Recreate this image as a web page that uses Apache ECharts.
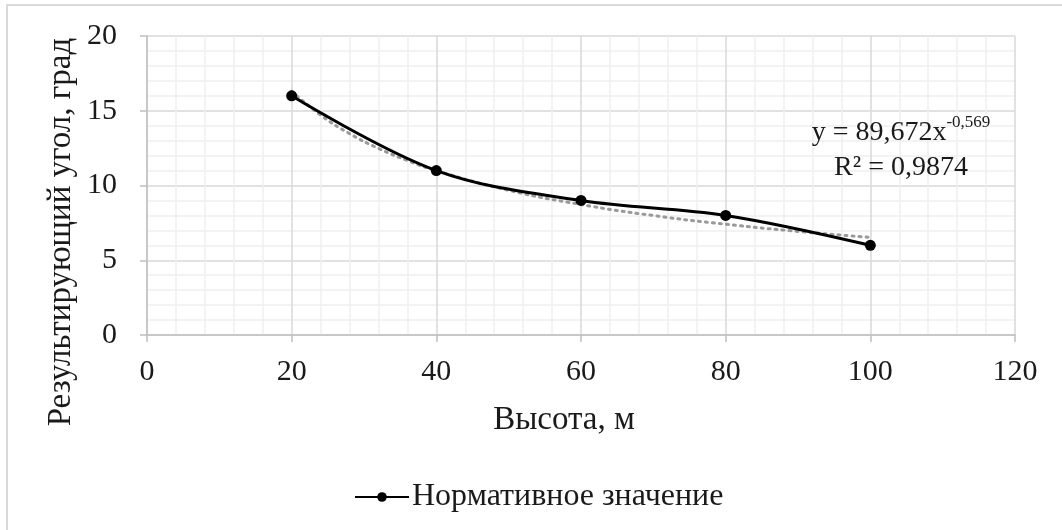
<!DOCTYPE html>
<html>
<head>
<meta charset="utf-8">
<script src="https://cdn.jsdelivr.net/npm/echarts@6/dist/echarts.min.js"></script>
<style>html,body{margin:0;padding:0;background:#fff}#c{width:1062px;height:530px}</style>
</head>
<body>
<div id="c"></div>
<script>
const heights = [20, 40, 60, 80, 100];
const angles = [16, 11, 9, 8, 6];
const trendX = [20, 24, 28, 32, 36, 40, 50, 60, 70, 80, 90, 100];
const trendY = [16.31, 14.71, 13.47, 12.48, 11.67, 10.99, 9.68, 8.73, 7.99, 7.41, 6.93, 6.53];
const seriesName = 'Нормативное значение';
const xTitle = 'Высота, м';
const yTitle = 'Результирующий угол, град';
const eqMain = 'y = 89,672x';
const eqSup = '-0,569';
const r2Text = 'R² = 0,9874';

const font = 'Liberation Serif';
const ink = '#1a1a1a';
const chart = echarts.init(document.getElementById('c'));
chart.setOption({
  animation: false,
  backgroundColor: '#fff',
  textStyle: { fontFamily: font },
  grid: { left: 147, right: 47, top: 36, bottom: 195, containLabel: false },
  xAxis: {
    type: 'value', min: 0, max: 120, interval: 20,
    axisLine: { show: true, onZero: false, lineStyle: { color: '#bfbfbf', width: 1.5 } },
    axisTick: { show: true, length: 7, lineStyle: { color: '#bfbfbf', width: 1.5 } },
    axisLabel: { fontSize: 30, color: ink, margin: 22, fontFamily: font },
    splitLine: { show: true, lineStyle: { color: '#d9d9d9', width: 1.5 } },
    minorTick: { show: false, splitNumber: 5 },
    minorSplitLine: { show: true, lineStyle: { color: '#efefef', width: 1.5 } }
  },
  yAxis: {
    type: 'value', min: 0, max: 20, interval: 5,
    axisLine: { show: true, onZero: false, lineStyle: { color: '#bfbfbf', width: 1.5 } },
    axisTick: { show: true, length: 7, lineStyle: { color: '#bfbfbf', width: 1.5 } },
    axisLabel: { fontSize: 30, color: ink, margin: 30, fontFamily: font },
    splitLine: { show: true, lineStyle: { color: '#d9d9d9', width: 1.5 } },
    minorTick: { show: false, splitNumber: 5 },
    minorSplitLine: { show: true, lineStyle: { color: '#efefef', width: 1.5 } }
  },
  legend: {
    bottom: 12, left: 349,
    data: [seriesName],
    itemWidth: 54, itemHeight: 12, itemGap: 4,
    textStyle: { fontSize: 32, color: ink, fontFamily: font, padding: [0, 0, 0, -2] }
  },
  graphic: [
    { type: 'rect', silent: true, z: -1, shape: { x: 7, y: 5, width: 1200, height: 700 },
      style: { fill: 'none', stroke: '#d9d9d9', lineWidth: 2 } },
    { type: 'text', x: 61, y: 232, rotation: Math.PI / 2, z: 100,
      style: { text: yTitle, fontSize: 33, fontFamily: font, fill: ink, align: 'center', verticalAlign: 'middle' } },
    { type: 'text', x: 564, y: 420, z: 100,
      style: { text: xTitle, fontSize: 33, fontFamily: font, fill: ink, align: 'center', verticalAlign: 'middle' } },
    { type: 'text', x: 901, y: 133, z: 100,
      style: {
        text: '{a|' + eqMain + '}{b|' + eqSup + '}',
        align: 'center', verticalAlign: 'middle', fill: ink,
        rich: {
          a: { fontSize: 28, fontFamily: font, fill: ink, color: ink },
          b: { fontSize: 17, fontFamily: font, fill: ink, color: ink, padding: [0, 0, 20, 0] }
        }
      }
    },
    { type: 'text', x: 901, y: 168, z: 100,
      style: { text: r2Text, fontSize: 28, fontFamily: font, fill: ink, align: 'center', verticalAlign: 'middle' } }
  ],
  series: [
    {
      name: 'trend', type: 'line', smooth: true, showSymbol: false, silent: true,
      data: trendX.map((x, i) => [x, trendY[i]]),
      lineStyle: { color: '#9a9a9a', width: 3, type: [2, 5], cap: 'round' },
      z: 2
    },
    {
      name: seriesName, type: 'line', smooth: 0.35,
      data: heights.map((x, i) => [x, angles[i]]),
      symbol: 'circle', symbolSize: 11,
      itemStyle: { color: '#000' },
      lineStyle: { color: '#000', width: 3 },
      z: 3
    }
  ]
});
</script>
</body>
</html>
